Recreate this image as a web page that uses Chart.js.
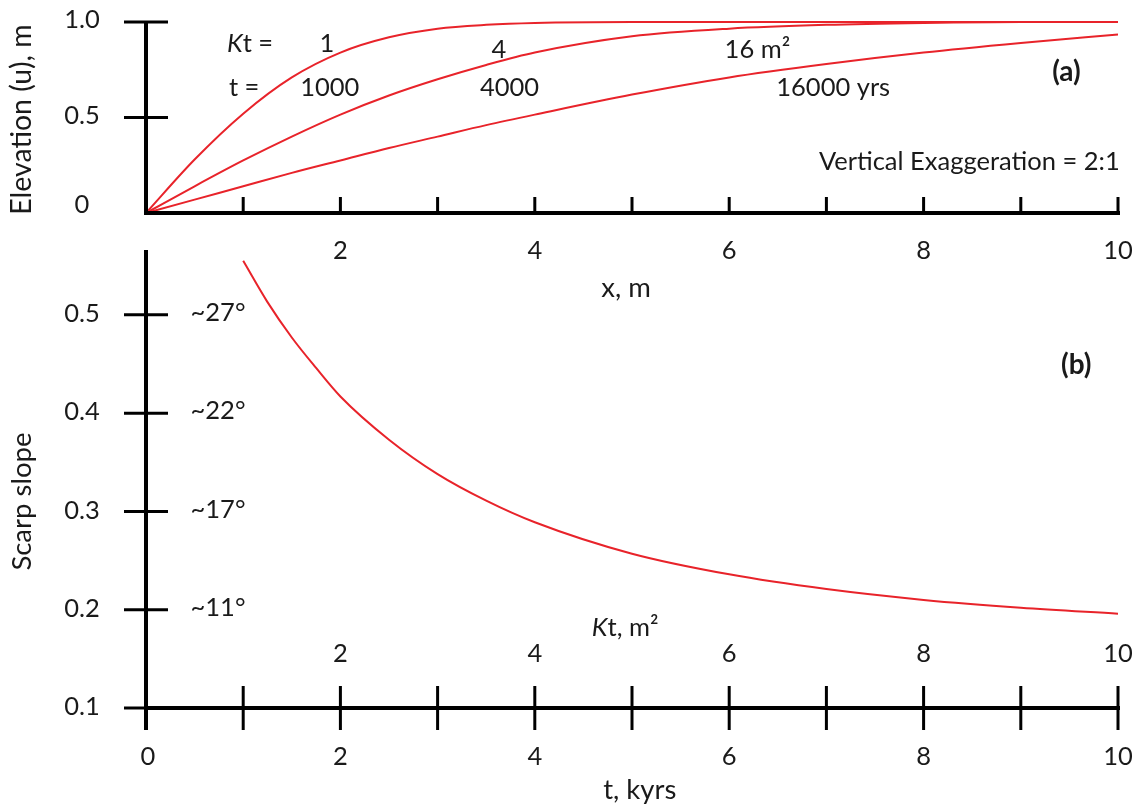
<!DOCTYPE html>
<html>
<head>
<meta charset="utf-8">
<title>Scarp diffusion</title>
<script src="https://cdn.jsdelivr.net/npm/chart.js@4/dist/chart.umd.min.js"></script>
<style>
  body { margin: 0; background: #fff; }
  #wrap { position: relative; width: 1144px; height: 805px; }
  #wrap canvas { position: absolute; left: 0; top: 0; }
</style>
</head>
<body>
<div id="wrap">
  <canvas id="topChart" width="1144" height="805"></canvas>
  <canvas id="botChart" width="1144" height="805"></canvas>
</div>
<script>
// (a) elevation profiles
var xPts = [0, 0.5, 1, 1.5, 2, 2.5, 3, 3.5, 4, 5, 6, 7, 8, 9, 10];
var uKt1 = [0, 0.28, 0.52, 0.71, 0.84, 0.92, 0.965, 0.985, 0.995, 1, 1, 1, 1, 1, 1];
var uKt4 = [0, 0.14, 0.275, 0.40, 0.515, 0.615, 0.70, 0.775, 0.84, 0.925, 0.965, 0.985, 0.995, 1, 1];
var uKt16 = [0, 0.07, 0.14, 0.21, 0.275, 0.34, 0.40, 0.46, 0.515, 0.62, 0.71, 0.78, 0.84, 0.89, 0.935];

// (b) scarp slope against time
var tPts = [1, 1.25, 1.5, 1.75, 2, 2.5, 3, 3.5, 4, 5, 6, 7, 8, 9, 10];
var slope = [0.555, 0.513, 0.477, 0.446, 0.417, 0.373, 0.338, 0.311, 0.289, 0.257, 0.236, 0.221, 0.21, 0.202, 0.196];

// tick labels
var topYTicks = [0, 0.5, 1.0];
var topYLabels = ['0', '0.5', '1.0'];
var xTicks = [1, 2, 3, 4, 5, 6, 7, 8, 9, 10];
var xLabelVals = [2, 4, 6, 8, 10];
var botYTicks = [0.1, 0.2, 0.3, 0.4, 0.5];
var botYLabels = ['0.1', '0.2', '0.3', '0.4', '0.5'];
var angleTicks = [0.2, 0.3, 0.4, 0.5];
var angleLabels = ['~11°', '~17°', '~22°', '~27°'];
var tLabelVals = [0, 2, 4, 6, 8, 10];

var FONT = 'Lato, "Open Sans", sans-serif';
var INK = '#1a1a1a';
var RED = '#e8232a';
var FS = 25.5;   // general text size
var TS = 27.5;   // axis titles

function pts(xs, ys) {
    return xs.map(function (x, i) { return { x: x, y: ys[i] }; });
}

function text(ctx, str, x, y, size, opts) {
    opts = opts || {};
    ctx.save();
    ctx.fillStyle = INK;
    ctx.font = (opts.weight || '') + ' ' + size + 'px ' + FONT;
    ctx.textAlign = opts.align || 'center';
    ctx.textBaseline = 'middle';
    ctx.translate(x, y);
    if (opts.rotate) ctx.rotate(opts.rotate);
    ctx.fillText(str, 0, 0);
    ctx.restore();
}

// text with an italic K in front, centred on x
function kText(ctx, rest, x, y, size) {
    ctx.save();
    ctx.fillStyle = INK;
    ctx.textBaseline = 'middle';
    ctx.textAlign = 'left';
    ctx.font = 'italic ' + size + 'px ' + FONT;
    var wk = ctx.measureText('K').width;
    ctx.font = size + 'px ' + FONT;
    var wr = ctx.measureText(rest).width;
    var x0 = x - (wk + wr) / 2;
    ctx.font = 'italic ' + size + 'px ' + FONT;
    ctx.fillText('K', x0, y);
    ctx.font = size + 'px ' + FONT;
    ctx.fillText(rest, x0 + wk, y);
    ctx.restore();
}

function line(ctx, x1, y1, x2, y2, w) {
    ctx.beginPath();
    ctx.lineWidth = w;
    ctx.moveTo(x1, y1);
    ctx.lineTo(x2, y2);
    ctx.stroke();
}

var topAxes = {
    id: 'topAxes',
    afterDraw: function (chart) {
        var ctx = chart.ctx, xs = chart.scales.x, ys = chart.scales.y;
        var x0 = xs.getPixelForValue(0), x10 = xs.getPixelForValue(10);
        var y0 = ys.getPixelForValue(0), y1 = ys.getPixelForValue(1);
        ctx.save();
        ctx.strokeStyle = '#000';
        line(ctx, x0, y1 - 1, x0, y0 + 2, 4);
        line(ctx, x0 - 2, y0, x10 + 2, y0, 4);
        [0.5, 1].forEach(function (v) {
            var p = ys.getPixelForValue(v);
            line(ctx, x0 - 22, p, x0 + 22, p, 3);
        });
        xTicks.forEach(function (v) {
            var p = xs.getPixelForValue(v);
            line(ctx, p, y0, p, y0 - 16, 3);
        });
        ctx.restore();

        topYTicks.forEach(function (v, i) {
            text(ctx, topYLabels[i], x0 - 64, ys.getPixelForValue(v) - (v === 0 ? 8 : 2), FS);
        });
        xLabelVals.forEach(function (v) {
            text(ctx, String(v), xs.getPixelForValue(v), y0 + 38, FS);
        });
        text(ctx, 'x, m', xs.getPixelForValue(5) - 6, y0 + 75, TS);
        text(ctx, 'Elevation (u), m', 22, (y0 + y1) / 2 + 2, 28.5, { rotate: -Math.PI / 2 });

        // curve labels
        kText(ctx, 't =', xs.getPixelForValue(1.07), ys.getPixelForValue(0.885), FS);
        text(ctx, '1', xs.getPixelForValue(1.86), ys.getPixelForValue(0.885), FS);
        text(ctx, '4', xs.getPixelForValue(3.63), ys.getPixelForValue(0.855), FS);
        text(ctx, '16 m²', xs.getPixelForValue(6.29), ys.getPixelForValue(0.855), FS);
        text(ctx, 't =', xs.getPixelForValue(1.01), ys.getPixelForValue(0.655), FS);
        text(ctx, '1000', xs.getPixelForValue(1.89), ys.getPixelForValue(0.655), FS);
        text(ctx, '4000', xs.getPixelForValue(3.74), ys.getPixelForValue(0.655), FS);
        text(ctx, '16000 yrs', xs.getPixelForValue(7.07), ys.getPixelForValue(0.655), FS);
        text(ctx, '(a)', xs.getPixelForValue(9.47), ys.getPixelForValue(0.74), 28, { weight: 'bold' });
        text(ctx, 'Vertical Exaggeration = 2:1', xs.getPixelForValue(8.47), ys.getPixelForValue(0.27), FS);
    }
};

var botAxes = {
    id: 'botAxes',
    afterDraw: function (chart) {
        var ctx = chart.ctx, xs = chart.scales.x, ys = chart.scales.y;
        var x0 = xs.getPixelForValue(0), x10 = xs.getPixelForValue(10);
        var yb = ys.getPixelForValue(0.1), yt = chart.chartArea.top;
        ctx.save();
        ctx.strokeStyle = '#000';
        line(ctx, x0, yt, x0, yb + 22, 4);
        line(ctx, x0 - 2, yb, x10 + 2, yb, 4);
        botYTicks.forEach(function (v) {
            var p = ys.getPixelForValue(v);
            line(ctx, x0 - 22, p, v === 0.1 ? x0 : x0 + 22, p, 3);
        });
        xTicks.forEach(function (v) {
            var p = xs.getPixelForValue(v);
            line(ctx, p, yb - 22, p, yb + 22, 3);
        });
        ctx.restore();

        botYTicks.forEach(function (v, i) {
            text(ctx, botYLabels[i], x0 - 64, ys.getPixelForValue(v) - 1, FS);
        });
        angleTicks.forEach(function (v, i) {
            text(ctx, angleLabels[i], x0 + 72, ys.getPixelForValue(v) - 2, FS);
        });
        xLabelVals.forEach(function (v) {
            text(ctx, String(v), xs.getPixelForValue(v), yb - 54, FS);
        });
        tLabelVals.forEach(function (v) {
            text(ctx, String(v), xs.getPixelForValue(v) + (v === 0 ? 2 : 0), yb + 49, FS);
        });
        kText(ctx, 't, m²', xs.getPixelForValue(4.93), yb - 80, FS);
        text(ctx, 't, kyrs', xs.getPixelForValue(5.08), yb + 82, TS);
        text(ctx, 'Scarp slope', 22, ys.getPixelForValue(0.31), TS, { rotate: -Math.PI / 2 });
        text(ctx, '(b)', xs.getPixelForValue(9.57), ys.getPixelForValue(0.449), 28, { weight: 'bold' });
    }
};

function lineSet(data) {
    return {
        data: data,
        borderColor: RED,
        borderWidth: 2,
        pointRadius: 0,
        fill: false,
        clip: false,
        tension: 0.4,
        cubicInterpolationMode: 'monotone'
    };
}

var hiddenScales = function (ymin, ymax) {
    return {
        x: { type: 'linear', min: 0, max: 10, display: false },
        y: { type: 'linear', min: ymin, max: ymax, display: false }
    };
};

new Chart(document.getElementById('topChart'), {
    type: 'line',
    data: {
        datasets: [lineSet(pts(xPts, uKt1)), lineSet(pts(xPts, uKt4)), lineSet(pts(xPts, uKt16))]
    },
    options: {
        responsive: false,
        animation: false,
        layout: { padding: { left: 146, right: 26, top: 22, bottom: 592 } },
        scales: hiddenScales(0, 1),
        plugins: { legend: { display: false }, tooltip: { enabled: false } }
    },
    plugins: [topAxes]
});

new Chart(document.getElementById('botChart'), {
    type: 'line',
    data: {
        datasets: [lineSet(pts(tPts, slope))]
    },
    options: {
        responsive: false,
        animation: false,
        layout: { padding: { left: 146, right: 26, top: 250, bottom: 97 } },
        scales: hiddenScales(0.1, 0.566),
        plugins: { legend: { display: false }, tooltip: { enabled: false } }
    },
    plugins: [botAxes]
});
</script>
</body>
</html>
